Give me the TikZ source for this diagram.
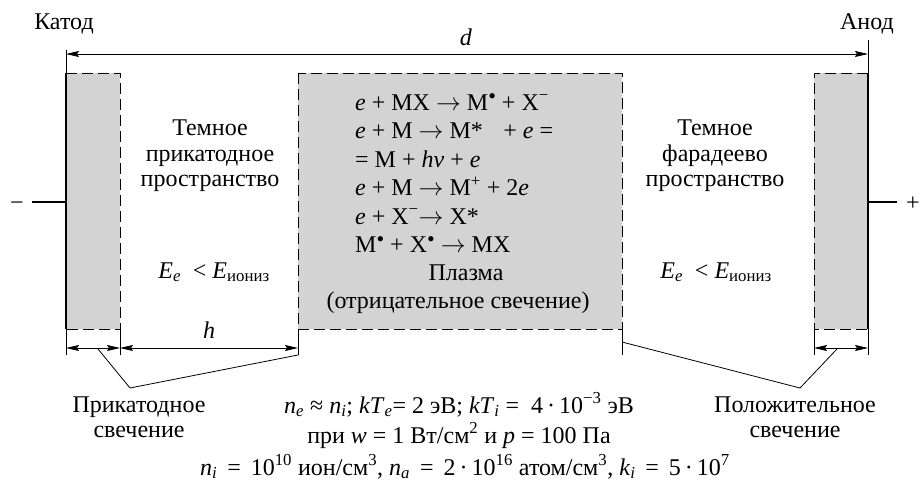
\documentclass[tikz,border=0pt]{standalone}
\usepackage{fontspec}
\setmainfont{Liberation Serif}
\usetikzlibrary{arrows.meta}
\definecolor{glow}{RGB}{211,211,212}
\newcommand\sups[1]{\textsuperscript{#1}}
\newcommand\subs[1]{\textsubscript{#1}}
\newcommand\ra{\ensuremath{\rightarrow}}
\newcommand\bul{\raisebox{0.27em}{\fontsize{22}{22}\selectfont•}}
\begin{document}
\begin{tikzpicture}[x=1pt,y=-1pt,
  txt/.style={anchor=base,inner sep=0pt,font=\fontsize{24}{28}\selectfont},
  txtl/.style={txt,anchor=base west},
  dashedge/.style={line width=0.9pt,dash pattern=on 11pt off 5pt},
  electrode/.style={line width=2.6pt},
  dim/.style={line width=0.8pt},
  dimarrow/.style={line width=0.8pt,{Stealth[length=13pt,width=6pt,inset=2pt]}-{Stealth[length=13pt,width=6pt,inset=2pt]}},
  leader/.style={line width=0.8pt}]
\useasboundingbox (0,0) rectangle (923,490);
% glow regions
\fill[glow] (66,73) rectangle (120,329);
\fill[glow] (298,73) rectangle (622,329);
\fill[glow] (814,73) rectangle (868,329);
\draw[dashedge] (66,73) -- (120,73) -- (120,329) -- (66,329);
\draw[dashedge] (298,73) rectangle (622,329);
\draw[dashedge] (868,73) -- (814,73) -- (814,329) -- (868,329);
% electrodes
\coordinate (ktop) at (66,73);
\coordinate (kbot) at (66,329);
\coordinate (atop) at (868,73);
\coordinate (abot) at (868,329);
\draw[electrode] (ktop) -- (kbot);
\draw[electrode] (atop) -- (abot);
\coordinate (kl) at (66,202);
\coordinate (kle) at (32,202);
\coordinate (al) at (868,202);
\coordinate (ale) at (897,202);
\draw[electrode] (kle) -- (kl);
\draw[electrode] (al) -- (ale);
\node[txt] (minus) at (17,210) {−};
\node[txt] (plus) at (913,210) {+};
% top dimension d
\coordinate (dl) at (66,54);
\coordinate (dr) at (868,54);
\draw[dim] (66,50) -- (ktop);
\draw[dim] (868,40) -- (atop);
\draw[dimarrow] (dl) -- (dr);
\node[txt] (dlab) at (466,45) {\textit{d}};
\node[txt] (katod) at (64,29) {Катод};
\node[txt] (anod) at (867,29) {Анод};
% bottom extension lines
\foreach \x in {66,120,298,622,814,868} \draw[dim] (\x,329) -- (\x,355);
\coordinate (b1) at (66,348);
\coordinate (b2) at (120,348);
\coordinate (b3) at (298,348);
\coordinate (b4) at (814,348);
\coordinate (b5) at (868,348);
\draw[dimarrow] (b1) -- (b2);
\draw[dimarrow] (b2) -- (b3);
\draw[dimarrow] (b4) -- (b5);
\node[txt] (hlab) at (209,338) {\textit{h}};
% leaders
\coordinate (lk1) at (98,349);
\coordinate (lk2) at (130,388);
\coordinate (lk3) at (298,355);
\draw[leader] (lk1) -- (lk2) -- (lk3);
\coordinate (la1) at (622,342);
\coordinate (la2) at (800,388);
\coordinate (la3) at (837,349);
\draw[leader] (la1) -- (la2) -- (la3);
% left dark space
\node[txt] (t1) at (210,135) {Темное};
\node[txt] (t2) at (210,161) {прикатодное};
\node[txt] (t3) at (210,186) {пространство};
\node[txt] (t4) at (214,278) {\textit{E}\subs{\textit{e}}\ \ < \textit{E}\subs{иониз}};
% right dark space
\node[txt] (f1) at (715,135) {Темное};
\node[txt] (f2) at (715,161) {фарадеево};
\node[txt] (f3) at (715,186) {пространство};
\node[txt] (f4) at (716,278) {\textit{E}\subs{\textit{e}}\ \ < \textit{E}\subs{иониз}};
% plasma
\node[txtl] (p1) at (355,110) {\textit{e} + MX \ra{} M\bul{} + X\sups{−}};
\node[txtl] (p2) at (355,138.5) {\textit{e} + M \ra{} M*\hspace{0.6em} + \textit{e} =};
\node[txtl] (p3) at (355,167) {= M + \textit{hν} + \textit{e}};
\node[txtl] (p4) at (355,195.5) {\textit{e} + M \ra{} M\sups{+} + 2\textit{e}};
\node[txtl] (p5) at (355,224) {\textit{e} + X\sups{−}\ra{} X*};
\node[txtl] (p6) at (355,252.5) {M\bul{} + X\bul{} \ra{} MX};
\node[txt] (p7) at (466,280) {Плазма};
\node[txt] (p8) at (458,308) {(отрицательное свечение)};
% bottom labels
\node[txt] (pk1) at (139,412) {Прикатодное};
\node[txt] (pk2) at (139,437) {свечение};
\node[txt] (ps1) at (795,412) {Положительное};
\node[txt] (ps2) at (795,437) {свечение};
\node[txt] (e1) at (459,413) {\textit{n}\subs{\textit{e}} ≈ \textit{n}\subs{\textit{i}}; \textit{kT}\subs{\textit{e}}= 2 эВ; \textit{kT}\subs{\textit{i}} = \ 4\,·\,10\sups{−3} эВ};
\node[txt] (e2) at (459,443) {при \textit{w} = 1 Вт/см\sups{2} и \textit{p} = 100 Па};
\node[txt] (e3) at (465,475) {\textit{n}\subs{\textit{i}}\, =\, 10\sups{10} ион/см\sups{3}, \textit{n}\subs{\textit{a}}\, =\, 2\,·\,10\sups{16} атом/см\sups{3}, \textit{k}\subs{\textit{i}}\, =\, 5\,·\,10\sups{7}};
\end{tikzpicture}
\end{document}
